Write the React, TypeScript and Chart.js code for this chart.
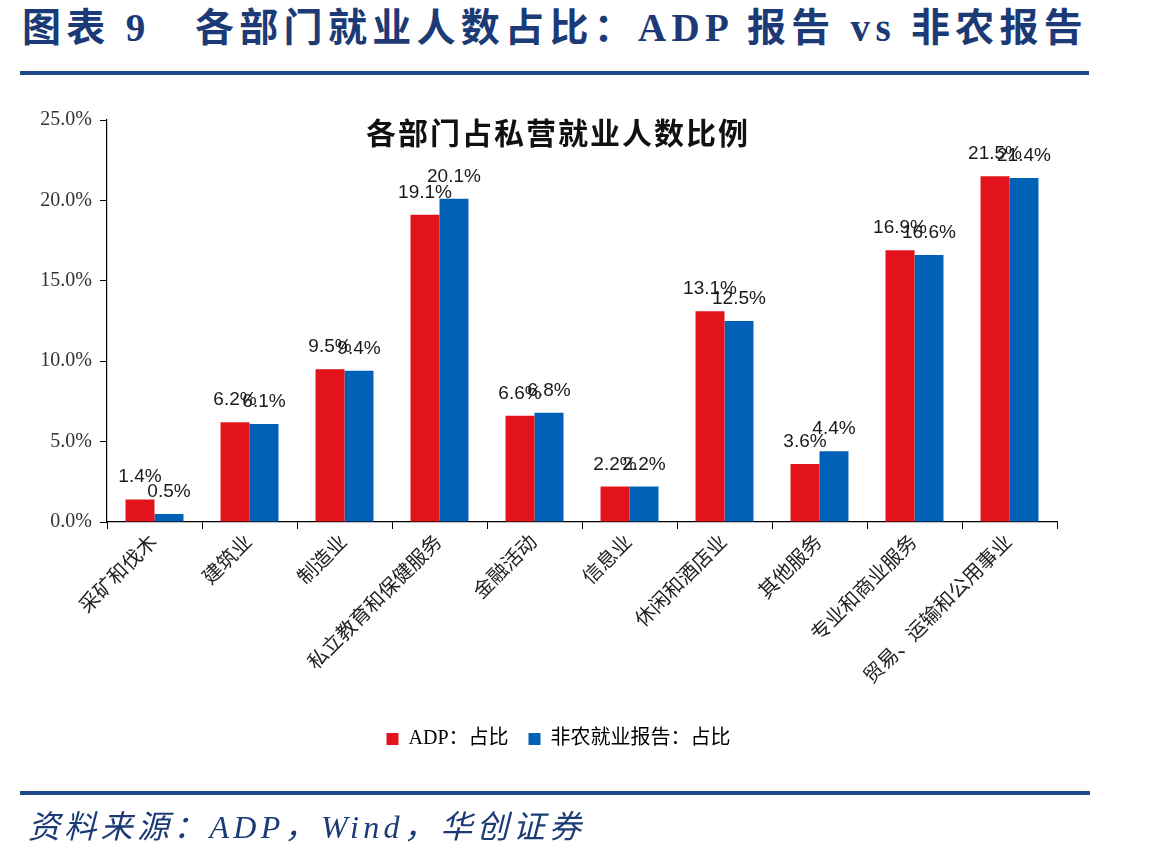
import { useEffect, useRef } from 'react';
import { Chart, registerables } from 'chart.js';

Chart.register(...registerables);

// Sectors of private employment
const sectors = [
  '采矿和伐木',
  '建筑业',
  '制造业',
  '私立教育和保健服务',
  '金融活动',
  '信息业',
  '休闲和酒店业',
  '其他服务',
  '专业和商业服务',
  '贸易、运输和公用事业',
];

// Share of private employment, ADP report (%)
const adpShare = [1.4, 6.2, 9.5, 19.1, 6.6, 2.2, 13.1, 3.6, 16.9, 21.5];
// Share of private employment, nonfarm payrolls report (%)
const nfpShare = [0.5, 6.1, 9.4, 20.1, 6.8, 2.2, 12.5, 4.4, 16.6, 21.4];

const yTickLabels = ['0.0%', '5.0%', '10.0%', '15.0%', '20.0%', '25.0%'];

const seriesNames = ['ADP：占比', '非农就业报告：占比'];
const chartTitle = '各部门占私营就业人数比例';

const RED = '#E3131C';
const BLUE = '#0061B6';
const NAVY = '#1C3A75';
const SERIF = "'Liberation Serif', 'Times New Roman', 'Noto Sans CJK SC', serif";
const SANS = "'Liberation Sans', Arial, sans-serif";

// Chart heading drawn inside the plot area
const innerTitle = {
  id: 'innerTitle',
  afterDraw(chart: Chart) {
    const { ctx, chartArea } = chart;
    ctx.save();
    ctx.font = `bold 30px 'Noto Sans CJK SC', sans-serif`;
    (ctx as any).letterSpacing = '2px';
    ctx.fillStyle = '#111';
    ctx.textAlign = 'center';
    ctx.textBaseline = 'middle';
    ctx.fillText(chartTitle, chartArea.left + 451, chartArea.top + 13);
    ctx.restore();
  },
};

// Centre the legend row under the plot rather than the whole canvas
const legendShift = {
  id: 'legendShift',
  afterLayout(chart: Chart) {
    const lg: any = (chart as any).legend;
    if (lg) lg.left += 38;
  },
};

// Percentage labels above every bar
const barValueLabels = {
  id: 'barValueLabels',
  afterDatasetsDraw(chart: Chart) {
    const { ctx } = chart;
    ctx.save();
    ctx.font = `19px ${SANS}`;
    ctx.fillStyle = '#1a1a1a';
    ctx.textAlign = 'center';
    ctx.textBaseline = 'alphabetic';
    chart.data.datasets.forEach((ds, di) => {
      const meta = chart.getDatasetMeta(di);
      meta.data.forEach((bar: any, i) => {
        const v = ds.data[i] as number;
        ctx.fillText(v.toFixed(1) + '%', bar.x, bar.y - 17);
      });
    });
    ctx.restore();
  },
};

export default function App() {
  const canvasRef = useRef<HTMLCanvasElement>(null);

  useEffect(() => {
    const chart = new Chart(canvasRef.current!, {
      type: 'bar',
      data: {
        labels: sectors,
        datasets: [
          {
            label: seriesNames[0],
            data: adpShare,
            backgroundColor: RED,
            borderWidth: 0,
            categoryPercentage: 0.61,
            barPercentage: 1,
          },
          {
            label: seriesNames[1],
            data: nfpShare,
            backgroundColor: BLUE,
            borderWidth: 0,
            categoryPercentage: 0.61,
            barPercentage: 1,
          },
        ],
      },
      options: {
        responsive: false,
        animation: false,
        layout: { padding: { top: 120, left: 22, right: 92, bottom: 102 } },
        plugins: {
          title: { display: false },
          tooltip: { enabled: false },
          legend: {
            position: 'bottom',
            labels: {
              boxWidth: 12,
              boxHeight: 12,
              padding: 20,
              color: '#000',
              font: { family: SERIF, size: 20 },
            },
          },
        },
        scales: {
          x: {
            grid: {
              display: true,
              drawOnChartArea: false,
              drawTicks: true,
              tickLength: 7,
              color: '#000',
              offset: true,
            },
            border: { display: true, color: '#000', width: 1.2 },
            ticks: {
              autoSkip: false,
              maxRotation: 45,
              minRotation: 45,
              padding: 2,
              color: '#222',
              font: { family: SERIF, size: 20 },
            },
            afterFit(scale: any) {
              scale.height = 187;
            },
          },
          y: {
            min: 0,
            max: 25,
            ticks: {
              stepSize: 5,
              padding: 8,
              color: '#333',
              font: { family: SERIF, size: 20 },
              callback: (_v: any, i: number) => yTickLabels[i],
            },
            grid: {
              drawOnChartArea: false,
              drawTicks: true,
              tickLength: 7,
              color: '#000',
            },
            border: { display: true, color: '#000', width: 1.2 },
            afterFit(scale: any) {
              scale.width = 85;
            },
          },
        },
      },
      plugins: [innerTitle, legendShift, barValueLabels],
    });
    return () => chart.destroy();
  }, []);

  return (
    <div
      style={{
        position: 'fixed',
        left: 0,
        top: 0,
        width: 1149,
        height: 861,
        background: '#fff',
        overflow: 'hidden',
      }}
    >
      <div
        style={{
          position: 'absolute',
          left: 22,
          top: 3,
          fontFamily: "'Liberation Serif', 'Noto Sans CJK SC', serif",
          fontWeight: 'bold',
          fontSize: 39,
          lineHeight: '50px',
          color: NAVY,
          whiteSpace: 'pre',
          letterSpacing: 5.3,
        }}
      >
        <span>图表 9</span>
        <span style={{ position: 'absolute', left: 173, top: 0 }}>
          各部门就业人数占比：ADP 报告 vs 非农报告
        </span>
      </div>
      <div
        style={{
          position: 'absolute',
          left: 20,
          top: 71,
          width: 1069,
          height: 4,
          background: '#1F4A8A',
        }}
      />
      <canvas
        ref={canvasRef}
        width={1149}
        height={861}
        style={{ position: 'absolute', left: 0, top: 0 }}
      />
      <div
        style={{
          position: 'absolute',
          left: 20,
          top: 791,
          width: 1070,
          height: 4,
          background: '#1F4A8A',
        }}
      />
      <div
        style={{
          position: 'absolute',
          left: 28,
          top: 804,
          fontFamily: "'Liberation Serif', 'Noto Sans CJK SC', serif",
          fontStyle: 'italic',
          fontSize: 32,
          lineHeight: '46px',
          color: NAVY,
          whiteSpace: 'pre',
          letterSpacing: 4.3,
        }}
      >
        资料来源：ADP，Wind，华创证券
      </div>
    </div>
  );
}
